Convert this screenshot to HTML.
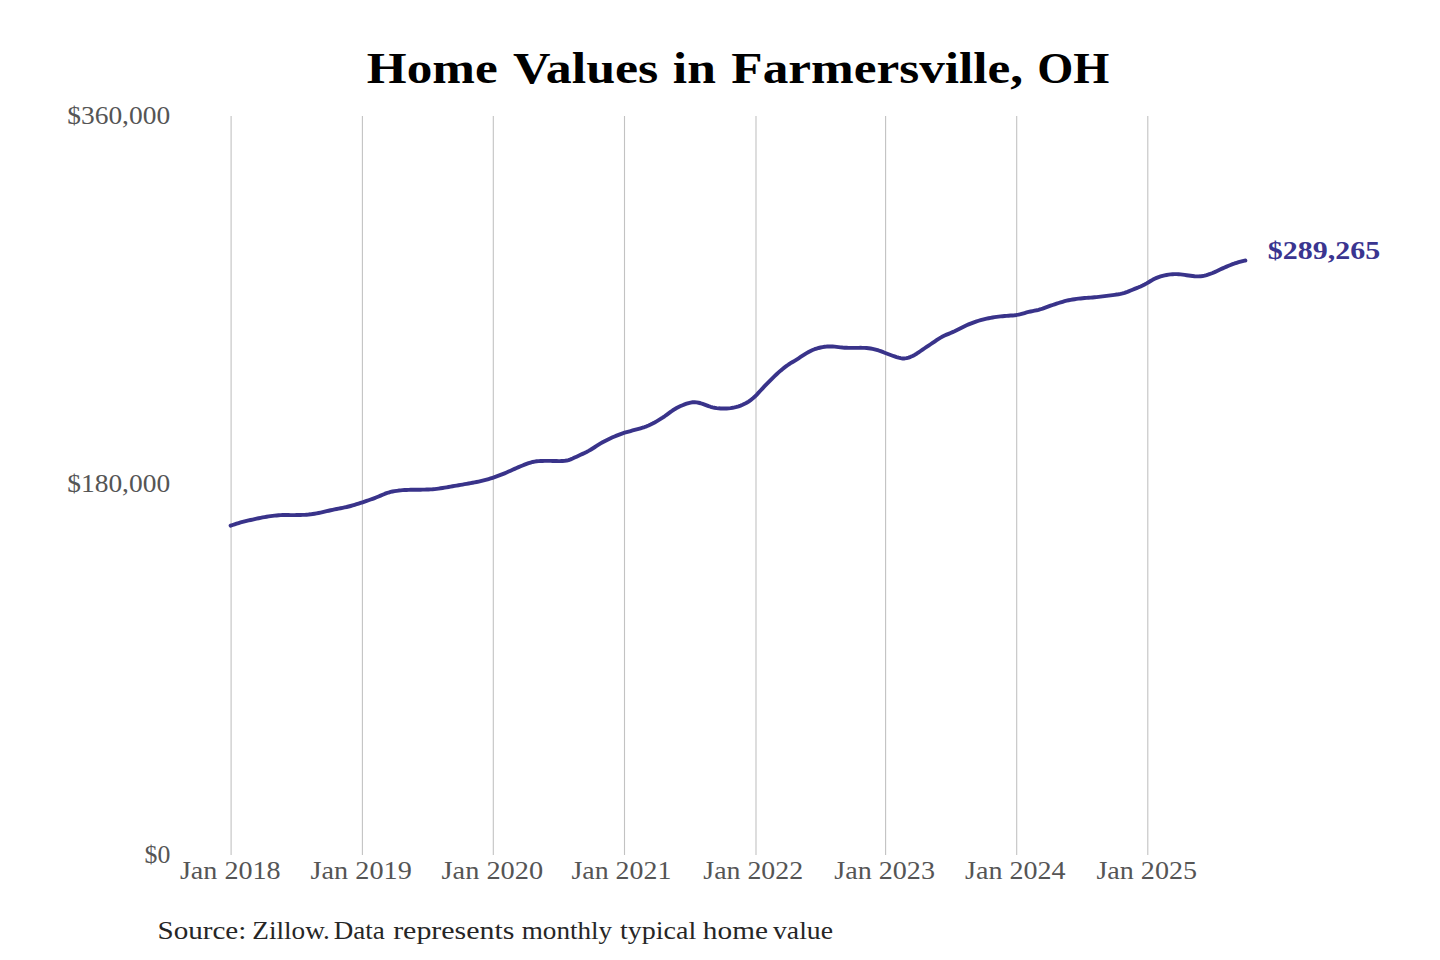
<!DOCTYPE html>
<html><head><meta charset="utf-8"><style>
html,body{margin:0;padding:0;background:#fff;}
svg{display:block;}
text{font-family:"Liberation Serif",serif;}
</style></head><body>
<svg width="1440" height="960" viewBox="0 0 1440 960">
<rect width="1440" height="960" fill="#fff"/>
<g font-size="44" font-weight="700" fill="#000">
<text x="366.84" y="83" textLength="130.84" lengthAdjust="spacingAndGlyphs">Home</text>
<text x="513.0" y="83" textLength="145.29" lengthAdjust="spacingAndGlyphs">Values</text>
<text x="672.83" y="83" textLength="43.0" lengthAdjust="spacingAndGlyphs">in</text>
<text x="731.34" y="83" textLength="291.76" lengthAdjust="spacingAndGlyphs">Farmersville,</text>
<text x="1037.29" y="83" textLength="72.08" lengthAdjust="spacingAndGlyphs">OH</text>
</g>
<g stroke="#c2c2c2" stroke-width="1.1" fill="none">
<line x1="231.1" y1="116" x2="231.1" y2="855" />
<line x1="362.4" y1="116" x2="362.4" y2="855" />
<line x1="493.3" y1="116" x2="493.3" y2="855" />
<line x1="624.5" y1="116" x2="624.5" y2="855" />
<line x1="756.0" y1="116" x2="756.0" y2="855" />
<line x1="885.6" y1="116" x2="885.6" y2="855" />
<line x1="1016.7" y1="116" x2="1016.7" y2="855" />
<line x1="1147.8" y1="116" x2="1147.8" y2="855" />
</g>
<g font-size="26" fill="#555555" >
<text x="67.24" y="124.1" textLength="102.88" lengthAdjust="spacingAndGlyphs">$360,000</text>
<text x="67.24" y="491.9" textLength="102.88" lengthAdjust="spacingAndGlyphs">$180,000</text>
<text x="144.61" y="863.4" textLength="25.78" lengthAdjust="spacingAndGlyphs">$0</text>
</g>
<g font-size="26" fill="#555555">
<text x="179.92" y="879.4" textLength="100.75" lengthAdjust="spacingAndGlyphs">Jan 2018</text>
<text x="310.61" y="879.4" textLength="101.16" lengthAdjust="spacingAndGlyphs">Jan 2019</text>
<text x="441.51" y="879.4" textLength="101.67" lengthAdjust="spacingAndGlyphs">Jan 2020</text>
<text x="571.53" y="879.4" textLength="99.83" lengthAdjust="spacingAndGlyphs">Jan 2021</text>
<text x="703.33" y="879.4" textLength="99.83" lengthAdjust="spacingAndGlyphs">Jan 2022</text>
<text x="834.22" y="879.4" textLength="100.75" lengthAdjust="spacingAndGlyphs">Jan 2023</text>
<text x="965.12" y="879.4" textLength="100.56" lengthAdjust="spacingAndGlyphs">Jan 2024</text>
<text x="1096.42" y="879.4" textLength="100.65" lengthAdjust="spacingAndGlyphs">Jan 2025</text>
</g>
<path d="M230.6,525.70 L232.6,524.99 L234.6,524.29 L236.6,523.64 L238.6,523.03 L240.6,522.46 L242.6,521.94 L244.6,521.43 L246.6,520.94 L248.6,520.47 L250.6,520.01 L252.6,519.55 L254.6,519.10 L256.6,518.67 L258.6,518.24 L260.6,517.83 L262.6,517.44 L264.6,517.07 L266.6,516.74 L268.6,516.43 L270.6,516.14 L272.6,515.88 L274.6,515.64 L276.6,515.44 L278.6,515.27 L280.6,515.14 L282.6,515.06 L284.6,515.03 L286.6,515.03 L288.6,515.05 L290.6,515.08 L292.6,515.09 L294.6,515.08 L296.6,515.06 L298.6,515.02 L300.6,514.98 L302.6,514.92 L304.6,514.83 L306.6,514.70 L308.6,514.53 L310.6,514.31 L312.6,514.03 L314.6,513.71 L316.6,513.35 L318.6,512.97 L320.6,512.56 L322.6,512.12 L324.6,511.67 L326.6,511.20 L328.6,510.73 L330.6,510.26 L332.6,509.81 L334.6,509.38 L336.6,508.98 L338.6,508.60 L340.6,508.22 L342.6,507.84 L344.6,507.44 L346.6,507.00 L348.6,506.51 L350.6,505.99 L352.6,505.43 L354.6,504.84 L356.6,504.22 L358.6,503.59 L360.6,502.95 L362.6,502.29 L364.6,501.63 L366.6,500.94 L368.6,500.24 L370.6,499.53 L372.6,498.80 L374.6,498.05 L376.6,497.27 L378.6,496.45 L380.6,495.61 L382.6,494.76 L384.6,493.94 L386.6,493.18 L388.6,492.52 L390.6,491.96 L392.6,491.50 L394.6,491.12 L396.6,490.82 L398.6,490.56 L400.6,490.36 L402.6,490.18 L404.6,490.04 L406.6,489.94 L408.6,489.87 L410.6,489.82 L412.6,489.80 L414.6,489.78 L416.6,489.75 L418.6,489.72 L420.6,489.68 L422.6,489.64 L424.6,489.60 L426.6,489.56 L428.6,489.49 L430.6,489.40 L432.6,489.27 L434.6,489.09 L436.6,488.86 L438.6,488.59 L440.6,488.29 L442.6,487.97 L444.6,487.64 L446.6,487.30 L448.6,486.97 L450.6,486.63 L452.6,486.29 L454.6,485.95 L456.6,485.60 L458.6,485.25 L460.6,484.90 L462.6,484.55 L464.6,484.20 L466.6,483.86 L468.6,483.51 L470.6,483.16 L472.6,482.78 L474.6,482.39 L476.6,481.97 L478.6,481.54 L480.6,481.08 L482.6,480.61 L484.6,480.10 L486.6,479.57 L488.6,479.01 L490.6,478.41 L492.6,477.78 L494.6,477.12 L496.6,476.42 L498.6,475.70 L500.6,474.94 L502.6,474.15 L504.6,473.33 L506.6,472.47 L508.6,471.59 L510.6,470.68 L512.6,469.77 L514.6,468.86 L516.6,467.97 L518.6,467.11 L520.6,466.27 L522.6,465.45 L524.6,464.64 L526.6,463.87 L528.6,463.16 L530.6,462.52 L532.6,461.99 L534.6,461.57 L536.6,461.27 L538.6,461.09 L540.6,460.98 L542.6,460.93 L544.6,460.92 L546.6,460.91 L548.6,460.91 L550.6,460.92 L552.6,460.95 L554.6,461.00 L556.6,461.04 L558.6,461.08 L560.6,461.07 L562.6,461.01 L564.6,460.84 L566.6,460.53 L568.6,460.03 L570.6,459.35 L572.6,458.50 L574.6,457.59 L576.6,456.66 L578.6,455.73 L580.6,454.81 L582.6,453.88 L584.6,452.93 L586.6,451.93 L588.6,450.87 L590.6,449.74 L592.6,448.52 L594.6,447.24 L596.6,445.93 L598.6,444.65 L600.6,443.41 L602.6,442.25 L604.6,441.17 L606.6,440.15 L608.6,439.18 L610.6,438.24 L612.6,437.34 L614.6,436.47 L616.6,435.63 L618.6,434.83 L620.6,434.07 L622.6,433.37 L624.6,432.73 L626.6,432.14 L628.6,431.57 L630.6,431.02 L632.6,430.47 L634.6,429.91 L636.6,429.35 L638.6,428.81 L640.6,428.26 L642.6,427.67 L644.6,427.03 L646.6,426.30 L648.6,425.48 L650.6,424.56 L652.6,423.56 L654.6,422.49 L656.6,421.36 L658.6,420.18 L660.6,418.94 L662.6,417.64 L664.6,416.27 L666.6,414.82 L668.6,413.34 L670.6,411.88 L672.6,410.49 L674.6,409.20 L676.6,408.05 L678.6,407.01 L680.6,406.06 L682.6,405.20 L684.6,404.40 L686.6,403.68 L688.6,403.04 L690.6,402.56 L692.6,402.29 L694.6,402.26 L696.6,402.43 L698.6,402.77 L700.6,403.25 L702.6,403.86 L704.6,404.58 L706.6,405.36 L708.6,406.12 L710.6,406.77 L712.6,407.30 L714.6,407.73 L716.6,408.06 L718.6,408.31 L720.6,408.47 L722.6,408.55 L724.6,408.55 L726.6,408.47 L728.6,408.32 L730.6,408.08 L732.6,407.77 L734.6,407.38 L736.6,406.91 L738.6,406.32 L740.6,405.62 L742.6,404.80 L744.6,403.85 L746.6,402.77 L748.6,401.55 L750.6,400.16 L752.6,398.59 L754.6,396.80 L756.6,394.82 L758.6,392.69 L760.6,390.51 L762.6,388.33 L764.6,386.20 L766.6,384.12 L768.6,382.06 L770.6,380.04 L772.6,378.06 L774.6,376.13 L776.6,374.25 L778.6,372.42 L780.6,370.65 L782.6,368.96 L784.6,367.36 L786.6,365.88 L788.6,364.51 L790.6,363.23 L792.6,362.01 L794.6,360.80 L796.6,359.56 L798.6,358.28 L800.6,356.97 L802.6,355.65 L804.6,354.35 L806.6,353.11 L808.6,351.95 L810.6,350.91 L812.6,349.99 L814.6,349.21 L816.6,348.55 L818.6,347.99 L820.6,347.51 L822.6,347.11 L824.6,346.80 L826.6,346.57 L828.6,346.43 L830.6,346.39 L832.6,346.47 L834.6,346.65 L836.6,346.90 L838.6,347.16 L840.6,347.38 L842.6,347.56 L844.6,347.68 L846.6,347.77 L848.6,347.83 L850.6,347.87 L852.6,347.88 L854.6,347.88 L856.6,347.86 L858.6,347.83 L860.6,347.82 L862.6,347.83 L864.6,347.90 L866.6,348.03 L868.6,348.23 L870.6,348.51 L872.6,348.87 L874.6,349.31 L876.6,349.85 L878.6,350.47 L880.6,351.18 L882.6,351.93 L884.6,352.70 L886.6,353.47 L888.6,354.23 L890.6,354.99 L892.6,355.73 L894.6,356.44 L896.6,357.11 L898.6,357.71 L900.6,358.19 L902.6,358.45 L904.6,358.43 L906.6,358.12 L908.6,357.58 L910.6,356.84 L912.6,355.95 L914.6,354.91 L916.6,353.71 L918.6,352.39 L920.6,351.01 L922.6,349.63 L924.6,348.26 L926.6,346.92 L928.6,345.59 L930.6,344.25 L932.6,342.90 L934.6,341.53 L936.6,340.15 L938.6,338.82 L940.6,337.60 L942.6,336.50 L944.6,335.53 L946.6,334.66 L948.6,333.83 L950.6,333.00 L952.6,332.13 L954.6,331.22 L956.6,330.25 L958.6,329.24 L960.6,328.21 L962.6,327.20 L964.6,326.21 L966.6,325.28 L968.6,324.41 L970.6,323.58 L972.6,322.81 L974.6,322.08 L976.6,321.39 L978.6,320.75 L980.6,320.15 L982.6,319.60 L984.6,319.09 L986.6,318.64 L988.6,318.22 L990.6,317.84 L992.6,317.49 L994.6,317.17 L996.6,316.88 L998.6,316.63 L1000.6,316.40 L1002.6,316.20 L1004.6,316.02 L1006.6,315.85 L1008.6,315.69 L1010.6,315.56 L1012.6,315.44 L1014.6,315.26 L1016.6,314.96 L1018.6,314.55 L1020.6,314.07 L1022.6,313.54 L1024.6,313.01 L1026.6,312.47 L1028.6,311.96 L1030.6,311.48 L1032.6,311.06 L1034.6,310.67 L1036.6,310.27 L1038.6,309.80 L1040.6,309.24 L1042.6,308.60 L1044.6,307.90 L1046.6,307.16 L1048.6,306.41 L1050.6,305.68 L1052.6,304.97 L1054.6,304.29 L1056.6,303.63 L1058.6,302.99 L1060.6,302.37 L1062.6,301.78 L1064.6,301.23 L1066.6,300.72 L1068.6,300.27 L1070.6,299.87 L1072.6,299.52 L1074.6,299.21 L1076.6,298.93 L1078.6,298.67 L1080.6,298.44 L1082.6,298.23 L1084.6,298.04 L1086.6,297.88 L1088.6,297.73 L1090.6,297.59 L1092.6,297.44 L1094.6,297.27 L1096.6,297.08 L1098.6,296.87 L1100.6,296.64 L1102.6,296.39 L1104.6,296.14 L1106.6,295.88 L1108.6,295.61 L1110.6,295.34 L1112.6,295.08 L1114.6,294.81 L1116.6,294.53 L1118.6,294.23 L1120.6,293.88 L1122.6,293.45 L1124.6,292.90 L1126.6,292.19 L1128.6,291.38 L1130.6,290.53 L1132.6,289.72 L1134.6,288.93 L1136.6,288.13 L1138.6,287.31 L1140.6,286.43 L1142.6,285.48 L1144.6,284.47 L1146.6,283.39 L1148.6,282.22 L1150.6,281.01 L1152.6,279.82 L1154.6,278.77 L1156.6,277.88 L1158.6,277.12 L1160.6,276.47 L1162.6,275.90 L1164.6,275.40 L1166.6,274.99 L1168.6,274.65 L1170.6,274.41 L1172.6,274.24 L1174.6,274.14 L1176.6,274.13 L1178.6,274.20 L1180.6,274.37 L1182.6,274.62 L1184.6,274.93 L1186.6,275.24 L1188.6,275.53 L1190.6,275.79 L1192.6,276.03 L1194.6,276.23 L1196.6,276.38 L1198.6,276.42 L1200.6,276.31 L1202.6,276.05 L1204.6,275.63 L1206.6,275.08 L1208.6,274.44 L1210.6,273.72 L1212.6,272.95 L1214.6,272.11 L1216.6,271.21 L1218.6,270.27 L1220.6,269.31 L1222.6,268.37 L1224.6,267.47 L1226.6,266.60 L1228.6,265.77 L1230.6,264.96 L1232.6,264.19 L1234.6,263.46 L1236.6,262.80 L1238.6,262.19 L1240.6,261.63 L1242.6,261.11 L1244.6,260.61 L1245.4,260.48" fill="none" stroke="#39338a" stroke-width="3.9" stroke-linecap="round" stroke-linejoin="round"/>
<text x="1267.85" y="259" font-size="26" font-weight="700" fill="#3a3590" textLength="112.33" lengthAdjust="spacingAndGlyphs">$289,265</text>
<g font-size="26" fill="#262626">
<text x="157.46" y="938.6" textLength="88.85" lengthAdjust="spacingAndGlyphs">Source:</text>
<text x="252.25" y="938.6" textLength="77.64" lengthAdjust="spacingAndGlyphs">Zillow.</text>
<text x="333.66" y="938.6" textLength="51.04" lengthAdjust="spacingAndGlyphs">Data</text>
<text x="393.15" y="938.6" textLength="121.32" lengthAdjust="spacingAndGlyphs">represents</text>
<text x="521.76" y="938.6" textLength="90.44" lengthAdjust="spacingAndGlyphs">monthly</text>
<text x="619.92" y="938.6" textLength="76.3" lengthAdjust="spacingAndGlyphs">typical</text>
<text x="702.88" y="938.6" textLength="64.99" lengthAdjust="spacingAndGlyphs">home</text>
<text x="773.0" y="938.6" textLength="60.03" lengthAdjust="spacingAndGlyphs">value</text>
</g>
</svg>
</body></html>
